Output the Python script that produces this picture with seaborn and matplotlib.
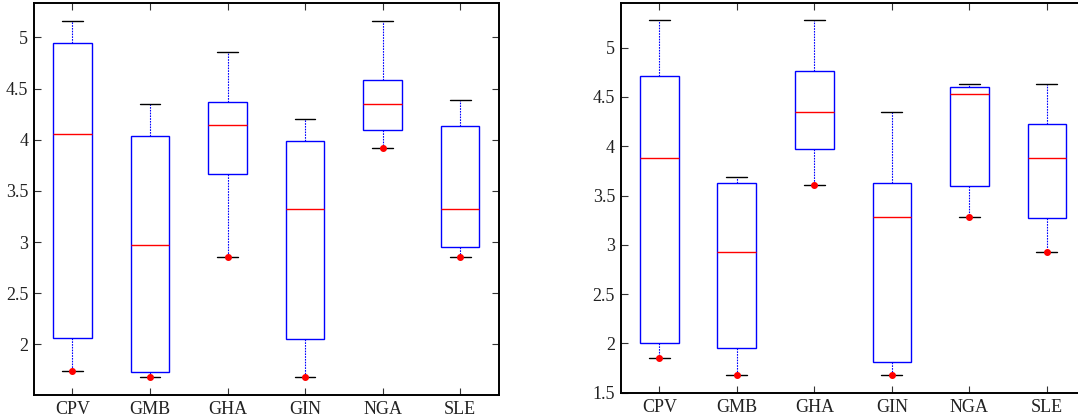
import matplotlib
matplotlib.use('Agg')
import matplotlib.pyplot as plt
import numpy as np
import pandas as pd
import seaborn as sns

# categories (same order in both panels)
countries = ['CPV', 'GMB', 'GHA', 'GIN', 'NGA', 'SLE']

# left panel: lower whisker, q1, median, q3, upper whisker
left_lo = [1.739, 1.680, 2.858, 1.680, 3.924, 2.858]
left_q1 = [2.065, 1.729, 3.670, 2.052, 4.093, 2.949]
left_med = [4.058, 2.968, 4.149, 3.327, 4.348, 3.327]
left_q3 = [4.945, 4.038, 4.374, 3.989, 4.586, 4.136]
left_hi = [5.166, 4.351, 4.863, 4.204, 5.166, 4.393]

# right panel
right_lo = [1.851, 1.679, 3.605, 1.679, 3.280, 2.932]
right_q1 = [2.007, 1.959, 3.976, 1.811, 3.595, 3.270]
right_med = [3.882, 2.932, 4.348, 3.280, 4.530, 3.882]
right_q3 = [4.716, 3.632, 4.767, 3.632, 4.605, 4.230]
right_hi = [5.284, 3.686, 5.284, 4.348, 4.635, 4.635]

left_yticks = [2, 2.5, 3, 3.5, 4, 4.5, 5]
right_yticks = [1.5, 2, 2.5, 3, 3.5, 4, 4.5, 5]


def to_frame(lo, q1, med, q3, hi):
    # five points per country -> quartiles of 5 values are exactly q1/med/q3
    rows = []
    for i, c in enumerate(countries):
        for v in (lo[i], q1[i], med[i], q3[i], hi[i]):
            rows.append({'country': c, 'value': v})
    return pd.DataFrame(rows)


sns.set_theme(style='white')
plt.rcParams['font.family'] = ['Liberation Serif', 'DejaVu Serif']

fig = plt.figure(figsize=(10.78, 4.19), dpi=100)
ax1 = fig.add_axes([0.0313, 0.0573, 0.4314, 0.935])
ax2 = fig.add_axes([0.5757, 0.0609, 0.4314, 0.9327])

panels = [
    (ax1, (left_lo, left_q1, left_med, left_q3, left_hi), left_yticks, (1.505, 5.335)),
    (ax2, (right_lo, right_q1, right_med, right_q3, right_hi), right_yticks, (1.493, 5.456)),
]

for ax, stats, yticks, ylim in panels:
    df = to_frame(*stats)
    sns.boxplot(data=df, x='country', y='value', ax=ax, order=countries,
                width=0.5, whis=np.inf, color='white', linecolor='#0000ff',
                linewidth=1.0, capwidths=0.27,
                boxprops=dict(edgecolor='#0000ff', facecolor='white', linewidth=1.0),
                medianprops=dict(color='#ff0000', linewidth=1.0),
                whiskerprops=dict(color='#0000ff', linewidth=0.8, linestyle=(0, (1.5, 1))),
                capprops=dict(color='black', linewidth=1.0))
    # red markers at the lower whisker ends
    ax.plot(np.arange(len(countries)), stats[0], 'o', color='#ff0000',
            markersize=4, zorder=5)

    ax.set_xlim(-0.5, len(countries) - 0.5)
    ax.set_ylim(*ylim)
    ax.set_yticks(yticks)
    ax.set_yticklabels([f'{t:g}' for t in yticks])
    ax.set_xlabel('')
    ax.set_ylabel('')
    ax.tick_params(direction='in', top=True, right=True, bottom=True, left=True,
                   length=5, width=0.8, color='#333333', labelsize=13,
                   labelcolor='#222222', pad=4)
    for side in ax.spines.values():
        side.set_visible(True)
        side.set_color('black')
        side.set_linewidth(1.4)

fig.savefig('out.png', dpi=100, facecolor='white')
